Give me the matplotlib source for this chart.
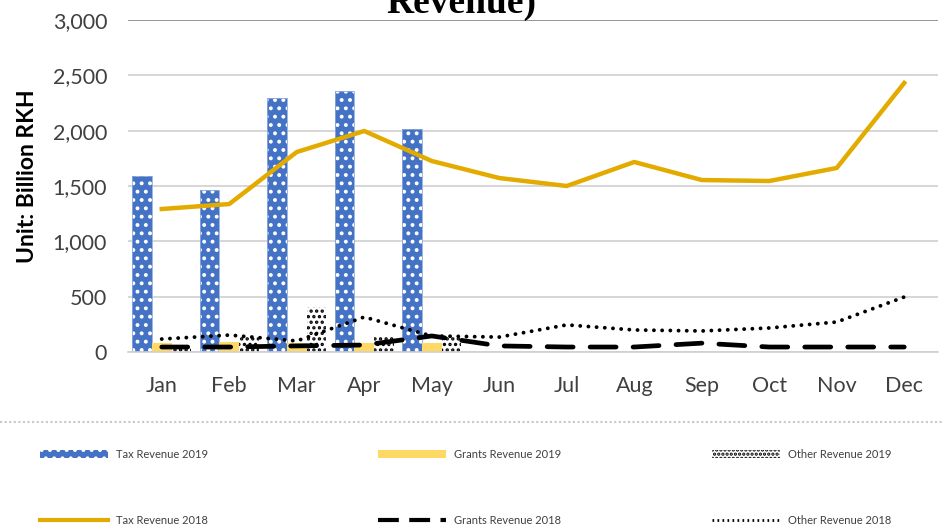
import numpy as np
import matplotlib
matplotlib.use('Agg')
import matplotlib.pyplot as plt
from matplotlib.patches import Patch
from matplotlib.lines import Line2D
from matplotlib.ticker import FuncFormatter

months = ['Jan', 'Feb', 'Mar', 'Apr', 'May', 'Jun', 'Jul', 'Aug', 'Sep', 'Oct', 'Nov', 'Dec']

# 2019 (bars, Jan-May only)
tax_2019 = [1590, 1465, 2295, 2355, 2015]
grants_2019 = [85, 90, 80, 80, 85]
other_2019 = [35, 135, 405, 150, 150]

# 2018 (lines)
tax_2018 = [1292, 1337, 1807, 1997, 1726, 1572, 1500, 1717, 1554, 1545, 1663, 2431]
grants_2018 = [45, 45, 55, 63, 145, 55, 45, 45, 80, 45, 45, 45]
other_2018 = [117, 153, 100, 316, 145, 135, 245, 199, 190, 217, 271, 497]

yticks = [0, 500, 1000, 1500, 2000, 2500, 3000]

plt.rcParams['font.family'] = ['Lato', 'DejaVu Sans']
plt.rcParams['hatch.linewidth'] = 1.6

blue = '#4472C4'
yellow = '#FFD966'
gold = '#E3AB00'
txt = '#404040'

fig = plt.figure(figsize=(9.44, 5.32), dpi=100)
ax = fig.add_axes([128/944, 1-352/532, 810/944, 332/532])

x = np.arange(len(months))
x19 = np.arange(len(tax_2019))
w = 0.29

ax.bar(x19 - w, tax_2019, w, color=blue, edgecolor='white', hatch='..', linewidth=0, zorder=2)
ax.bar(x19 - w, tax_2019, w, color='none', edgecolor='#8FAADC', linewidth=0.6, zorder=2)
ax.bar(x19, grants_2019, w, color=yellow, linewidth=0, zorder=2)
ax.bar(x19 + w, other_2019, w, color='white', edgecolor='black', hatch='...', linewidth=0, zorder=2)

ax.plot(x, tax_2018, color=gold, lw=3.2, solid_joinstyle='round', zorder=3)
ax.plot(x, grants_2018, color='black', lw=3.4, dashes=(5.5, 3.6), dash_capstyle='round', zorder=3)
ax.plot(x, other_2018, color='black', lw=2.8, dashes=(0.01, 2.1), dash_capstyle='round', zorder=3)

ax.set_xlim(-0.5, len(months) - 0.5)
ax.set_ylim(0, 3000)
ax.set_yticks(yticks)
ax.yaxis.set_major_formatter(FuncFormatter(lambda v, p: f'{int(v):,}'))
ax.set_xticks(x)
ax.set_xticklabels(months)
ax.tick_params(axis='both', length=0, labelsize=15.5, labelcolor=txt)
ax.tick_params(axis='x', pad=17)
ax.tick_params(axis='y', pad=15)
ax.grid(axis='y', color='#D0D0D0', lw=1.2, zorder=0)
for s in ['top', 'right', 'left']:
    ax.spines[s].set_visible(False)
ax.spines['bottom'].set_color('#D0D0D0')
ax.spines['bottom'].set_linewidth(1.2)
ax.set_axisbelow(True)
ax.axhline(3000, color='#8C8C8C', lw=1.2, zorder=1)

ax.set_ylabel('Unit: Billion RKH', fontsize=16.5, fontweight='bold', color='black')
ax.yaxis.set_label_coords(-(128 - 38)/810, 0.53)

fig.text(461/944, 1-13/532, 'Revenue)', family='Liberation Serif', fontweight='bold',
         fontsize=27, ha='center', va='baseline')

# dotted separator above the legend
fig.add_artist(Line2D([0, 1], [1-422/532, 1-422/532], color='#C8C8C8', lw=1.5,
                      dashes=(1, 1.2), transform=fig.transFigure))

handles = [
    [Patch(facecolor=blue, edgecolor='white', hatch='..', linewidth=0),
     Line2D([], [], color=gold, lw=3)],
    [Patch(facecolor=yellow, linewidth=0),
     Line2D([], [], color='black', lw=3, dashes=(5, 2.5))],
    [Patch(facecolor='white', edgecolor='black', hatch='....', linewidth=0),
     Line2D([], [], color='black', lw=2, dashes=(0.6, 1.2))],
]
labels = [['Tax Revenue 2019', 'Tax Revenue 2018'],
          ['Grants Revenue 2019', 'Grants Revenue 2018'],
          ['Other Revenue 2019', 'Other Revenue 2018']]
lefts = [40, 378, 712]
for h, l, x0 in zip(handles, labels, lefts):
    leg = fig.legend(h, l, loc='upper left', bbox_to_anchor=(x0/944, 1-449/532),
                     frameon=False, fontsize=8, handlelength=6.1, handleheight=0.7,
                     handletextpad=0.75, labelspacing=4.95, borderaxespad=0, borderpad=0)
    for t in leg.get_texts():
        t.set_color(txt)

fig.savefig('out.png', dpi=100)
